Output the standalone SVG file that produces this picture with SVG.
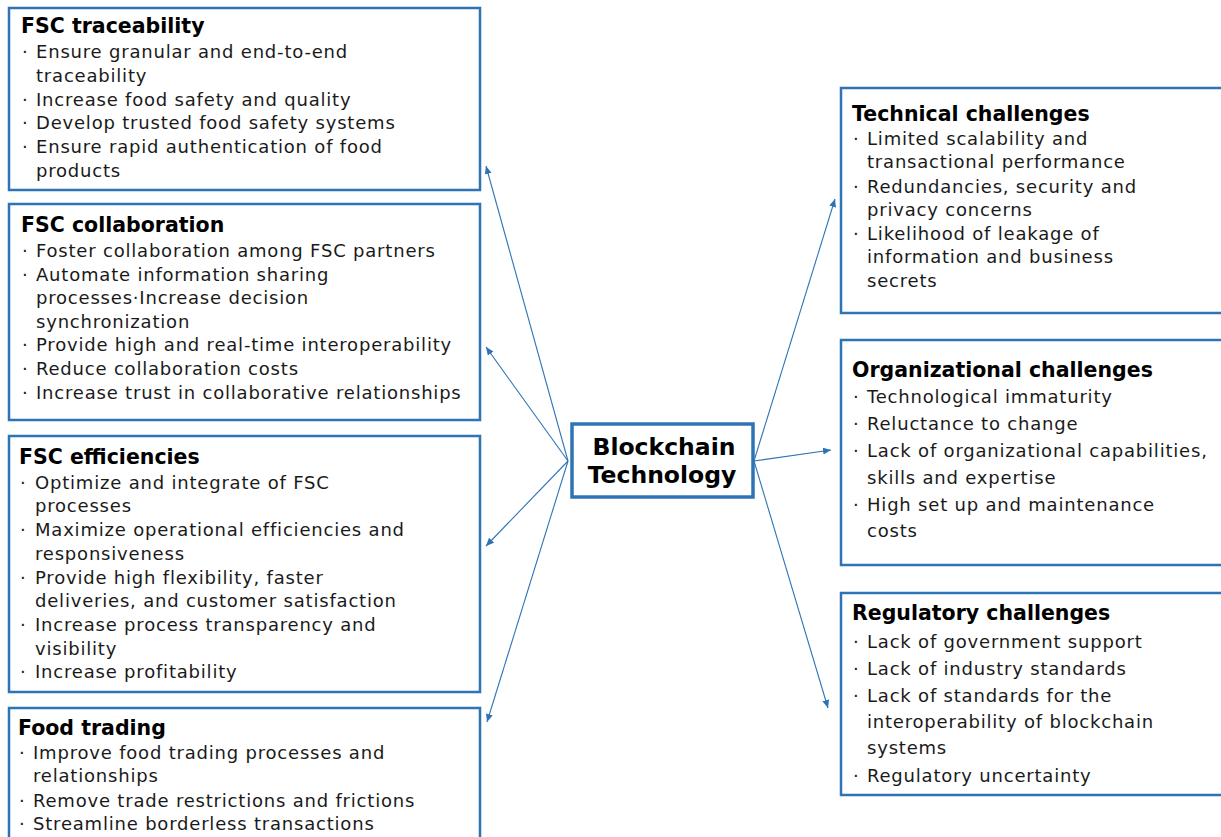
<svg xmlns="http://www.w3.org/2000/svg" width="1221" height="837" viewBox="0 0 1221 837">
<style>
.box{fill:#ffffff;stroke:#2E74B5;stroke-width:2.5}
.center{fill:#ffffff;stroke:#2E74B5;stroke-width:3.5}
.title{font-family:"DejaVu Sans",sans-serif;font-weight:bold;font-size:20.5px;fill:#000}
.body{font-family:"DejaVu Sans",sans-serif;font-size:18px;letter-spacing:0.8px;fill:#1a1a1a}
.bt{font-family:"DejaVu Sans",sans-serif;font-weight:bold;font-size:23.5px;fill:#000}
.conn line{stroke:#2E74B5;stroke-width:1.1;marker-end:url(#ah)}
</style>
<defs>
<marker id="ah" markerUnits="userSpaceOnUse" markerWidth="9" markerHeight="8" refX="8" refY="3.5" orient="auto">
<path d="M0,0 L8,3.5 L0,7 Z" fill="#2E74B5"/>
</marker>
</defs>
<rect width="1221" height="837" fill="#ffffff"/>

<g id="fsc-traceability">
<rect class="box" x="9" y="8" width="471" height="182"/>
<text class="title" x="21" y="33">FSC traceability</text>
<g class="body">
<text x="22" y="58">·</text><text x="36" y="58">Ensure granular and end-to-end</text>
<text x="36" y="82">traceability</text>
<text x="22" y="106">·</text><text x="36" y="106">Increase food safety and quality</text>
<text x="22" y="129">·</text><text x="36" y="129">Develop trusted food safety systems</text>
<text x="22" y="153">·</text><text x="36" y="153">Ensure rapid authentication of food</text>
<text x="36" y="177">products</text>
</g>
</g>

<g id="fsc-collaboration">
<rect class="box" x="9" y="204" width="471" height="216"/>
<text class="title" x="21" y="232">FSC collaboration</text>
<g class="body">
<text x="22" y="257">·</text><text x="36" y="257">Foster collaboration among FSC partners</text>
<text x="22" y="281">·</text><text x="36" y="281">Automate information sharing</text>
<text x="36" y="304">processes·Increase decision</text>
<text x="36" y="328">synchronization</text>
<text x="22" y="351">·</text><text x="36" y="351">Provide high and real-time interoperability</text>
<text x="22" y="375">·</text><text x="36" y="375">Reduce collaboration costs</text>
<text x="22" y="399">·</text><text x="36" y="399">Increase trust in collaborative relationships</text>
</g>
</g>

<g id="fsc-efficiencies">
<rect class="box" x="9" y="436" width="471" height="256"/>
<text class="title" x="19" y="464">FSC efficiencies</text>
<g class="body">
<text x="20" y="489">·</text><text x="35" y="489">Optimize and integrate of FSC</text>
<text x="35" y="512">processes</text>
<text x="20" y="536">·</text><text x="35" y="536">Maximize operational efficiencies and</text>
<text x="35" y="560">responsiveness</text>
<text x="20" y="584">·</text><text x="35" y="584">Provide high flexibility, faster</text>
<text x="35" y="607">deliveries, and customer satisfaction</text>
<text x="20" y="631">·</text><text x="35" y="631">Increase process transparency and</text>
<text x="35" y="655">visibility</text>
<text x="20" y="678">·</text><text x="35" y="678">Increase profitability</text>
</g>
</g>

<g id="food-trading">
<rect class="box" x="9" y="708" width="471" height="150"/>
<text class="title" x="18" y="735">Food trading</text>
<g class="body">
<text x="19" y="759">·</text><text x="33" y="759">Improve food trading processes and</text>
<text x="33" y="782">relationships</text>
<text x="19" y="807">·</text><text x="33" y="807">Remove trade restrictions and frictions</text>
<text x="19" y="830">·</text><text x="33" y="830">Streamline borderless transactions</text>
</g>
</g>

<g id="blockchain">
<rect class="center" x="572" y="424" width="181" height="73"/>
<text class="bt" x="664" y="455" text-anchor="middle">Blockchain</text>
<text class="bt" x="662" y="483" text-anchor="middle">Technology</text>
</g>

<g id="technical-challenges">
<rect class="box" x="841" y="88" width="400" height="225"/>
<text class="title" x="852" y="121">Technical challenges</text>
<g class="body">
<text x="853" y="145">·</text><text x="867" y="145">Limited scalability and</text>
<text x="867" y="168">transactional performance</text>
<text x="853" y="193">·</text><text x="867" y="193">Redundancies, security and</text>
<text x="867" y="216">privacy concerns</text>
<text x="853" y="240">·</text><text x="867" y="240">Likelihood of leakage of</text>
<text x="867" y="263">information and business</text>
<text x="867" y="287">secrets</text>
</g>
</g>

<g id="organizational-challenges">
<rect class="box" x="841" y="340" width="400" height="225"/>
<text class="title" x="852" y="377">Organizational challenges</text>
<g class="body">
<text x="853" y="403">·</text><text x="867" y="403">Technological immaturity</text>
<text x="853" y="430">·</text><text x="867" y="430">Reluctance to change</text>
<text x="853" y="457">·</text><text x="867" y="457">Lack of organizational capabilities,</text>
<text x="867" y="484">skills and expertise</text>
<text x="853" y="511">·</text><text x="867" y="511">High set up and maintenance</text>
<text x="867" y="537">costs</text>
</g>
</g>

<g id="regulatory-challenges">
<rect class="box" x="841" y="593" width="400" height="202"/>
<text class="title" x="852" y="620">Regulatory challenges</text>
<g class="body">
<text x="853" y="648">·</text><text x="867" y="648">Lack of government support</text>
<text x="853" y="675">·</text><text x="867" y="675">Lack of industry standards</text>
<text x="853" y="702">·</text><text x="867" y="702">Lack of standards for the</text>
<text x="867" y="728">interoperability of blockchain</text>
<text x="867" y="754">systems</text>
<text x="853" y="782">·</text><text x="867" y="782">Regulatory uncertainty</text>
</g>
</g>

<g id="connectors" class="conn">
<line x1="568" y1="461" x2="486" y2="166"/>
<line x1="568" y1="461" x2="486" y2="347"/>
<line x1="568" y1="461" x2="486" y2="546"/>
<line x1="568" y1="461" x2="487" y2="722"/>
<line x1="754" y1="461" x2="835" y2="199"/>
<line x1="754" y1="461" x2="831" y2="450"/>
<line x1="754" y1="461" x2="828" y2="708"/>
</g>
</svg>
